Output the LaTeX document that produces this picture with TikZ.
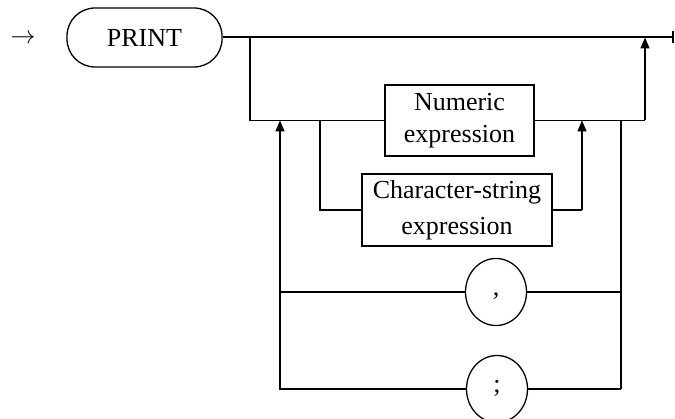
\documentclass[tikz,border=0pt]{standalone}
\usepackage{fontspec}
\setmainfont{Liberation Serif}
\usetikzlibrary{arrows.meta,shapes.geometric}
\begin{document}
\begin{tikzpicture}[x=1pt,y=-1pt,
  line width=1.6pt,
  txt/.style={font=\fontsize{26}{32}\selectfont},
  box/.style={draw,rectangle,inner sep=0pt,align=center,txt,line width=1.3pt},
  term/.style={draw,ellipse,inner sep=0pt,minimum width=61pt,minimum height=67pt,txt,line width=1.3pt},
  up/.style={-{Triangle[width=9pt,length=11pt]}},
  endbar/.style={-{Bar[width=12pt]}}]
\useasboundingbox (0,0) rectangle (675,419);
\node[txt] (start) at (23,39) {$\rightarrow$};
\node[draw,rectangle,rounded corners=28pt,minimum width=155pt,minimum height=59pt,txt,inner sep=0pt,line width=1.3pt] (print) at (144.5,37.5) {PRINT};
\node[box,minimum width=149pt,minimum height=71pt] (num) at (459.5,120.5) {Numeric\\expression};
\node[box,minimum width=190pt,minimum height=72pt,font=\fontsize{26}{36}\selectfont] (cs) at (457,210) {Character-string\\expression};
\node[term] (comma) at (496,292) {\smash{\raisebox{-4pt}{,}}};
\node[term] (semi) at (497,389) {\smash{\raisebox{-4pt}{;}}};
\coordinate (end) at (674,37.5);
\coordinate (j1) at (250,37.5);
\coordinate (j2) at (250,120.5);
\coordinate (j3) at (320,120.5);
\coordinate (j4) at (320,210);
\coordinate (a1) at (280,120.5);
\coordinate (a1b) at (280,292);
\coordinate (a1c) at (280,389);
\coordinate (r1) at (582,210);
\coordinate (r1t) at (582,120.5);
\coordinate (r2) at (645,120.5);
\coordinate (r2t) at (645,37.5);
\coordinate (l1) at (621,120.5);
\coordinate (l2) at (621,292);
\coordinate (l3) at (621,389);
\draw[endbar,line width=2pt] (print.east) -- (end);
\draw (j1) -- (j2) -- (num.west);
\draw (j3) -- (j4) -- (cs.west);
\draw (num.east) -- (r2);
\draw[up] (r2) -- (r2t);
\draw (cs.east) -- (r1);
\draw[up] (r1) -- (r1t);
\draw (l1) -- (l3);
\draw (l2) -- (comma.east);
\draw (comma.west) -- (a1b);
\draw (l3) -- (semi.east);
\draw (semi.west) -- (a1c) -- (a1b);
\draw[up] (a1b) -- (a1);
\end{tikzpicture}
\end{document}
